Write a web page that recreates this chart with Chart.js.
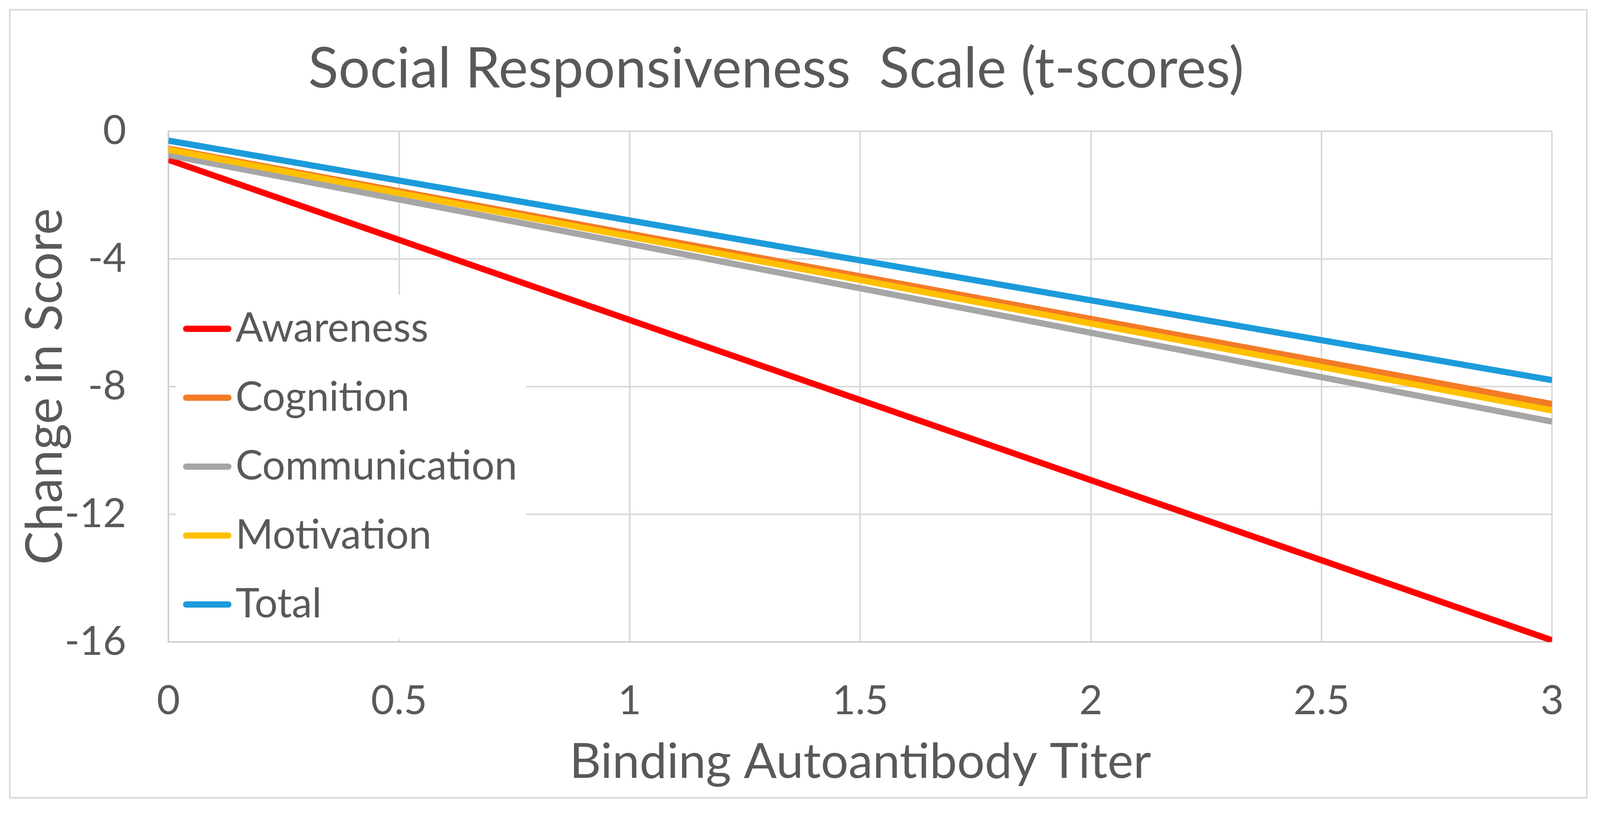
<!DOCTYPE html>
<html>
<head>
<meta charset="utf-8">
<title>Social Responsiveness Scale (t-scores)</title>
<script src="https://cdn.jsdelivr.net/npm/chart.js@4.4.1/dist/chart.umd.min.js"></script>
<style>
  html, body { margin: 0; padding: 0; background: #fff; overflow: hidden; }
  canvas { display: block; }
</style>
</head>
<body>
<canvas id="srsChart"></canvas>
<script>
// regression lines, change in t-score vs titer
let titers = [0, 3];
let awareness = [-0.9, -15.95];
let cognition = [-0.55, -8.55];
let communication = [-0.75, -9.1];
let motivation = [-0.58, -8.75];
let total = [-0.3, -7.8];

let seriesNames = ["Awareness", "Cognition", "Communication", "Motivation", "Total"];
let seriesColors = ["#ff0000", "#f47b26", "#a6a6a6", "#ffc000", "#1c9bdb"];

let xTicks = [0, 0.5, 1, 1.5, 2, 2.5, 3];
let yTicks = [0, -4, -8, -12, -16];

let textColor = "#595959";
let gridColor = "#d9d9d9";

// layout was measured on a 4246 x 2082 picture, scale to the real window
let W = window.innerWidth;
let H = window.innerHeight;
let sx = W / 4246;
let sy = H / 2082;

let canvas = document.getElementById("srsChart");
canvas.width = W;
canvas.height = H;

function pts(ys) {
    return titers.map(function (x, i) { return { x: x, y: ys[i] }; });
}

let allSeries = [awareness, cognition, communication, motivation, total];
let datasets = allSeries.map(function (ys, i) {
    return {
        label: seriesNames[i],
        data: pts(ys),
        borderColor: seriesColors[i],
        backgroundColor: seriesColors[i],
        borderWidth: 16,
        pointRadius: 0,
        fill: false,
        // excel draws later series on top
        order: allSeries.length - i
    };
});

// white page + thin gray frame
let framePlugin = {
    id: "frame",
    beforeDraw: function (chart) {
        let ctx = chart.ctx;
        ctx.save();
        ctx.fillStyle = "#fff";
        ctx.fillRect(0, 0, chart.width, chart.height);
        ctx.strokeStyle = gridColor;
        ctx.lineWidth = 4;
        ctx.strokeRect(26 * sx, 25 * sy, chart.width - 61 * sx, chart.height - 64 * sy);
        ctx.restore();
    }
};

// legend sits inside the plot, on a white box
let insideLegend = {
    id: "insideLegend",
    beforeDatasetsDraw: function (chart) {
        let ctx = chart.ctx;
        ctx.save();
        ctx.fillStyle = "#fff";
        ctx.fillRect(467 * sx, 755 * sy, 929 * sx, 882 * sy);
        ctx.font = "104px Lato";
        ctx.textBaseline = "alphabetic";
        ctx.textAlign = "left";
        chart.data.datasets.forEach(function (ds, i) {
            let y = (842 + i * 176.5) * sy;
            ctx.strokeStyle = ds.borderColor;
            ctx.lineWidth = 16;
            ctx.lineCap = "round";
            ctx.beginPath();
            ctx.moveTo(494 * sx, y);
            ctx.lineTo(606 * sx, y);
            ctx.stroke();
            ctx.fillStyle = textColor;
            ctx.fillText(ds.label, 625 * sx, y + 33 * sy);
        });
        ctx.restore();
    }
};

Chart.defaults.font.family = "Lato";
Chart.defaults.color = textColor;

new Chart(canvas, {
    type: "line",
    data: { datasets: datasets },
    plugins: [framePlugin, insideLegend],
    options: {
        responsive: false,
        animation: false,
        devicePixelRatio: 1,
        layout: { padding: { left: 0, right: 127 * sx, top: 0, bottom: 0 } },
        plugins: {
            legend: { display: false },
            tooltip: { enabled: false },
            title: {
                display: true,
                text: "Social Responsiveness  Scale (t-scores)",
                color: textColor,
                font: { size: 143, weight: "normal" },
                padding: { top: 92 * sy, bottom: 72 * sy }
            }
        },
        scales: {
            x: {
                type: "linear",
                min: 0,
                max: 3,
                afterBuildTicks: function (axis) {
                    axis.ticks = xTicks.map(function (v) { return { value: v }; });
                },
                afterFit: function (axis) { axis.height = 438 * sy; },
                ticks: {
                    font: { size: 103 }, color: textColor, padding: 90 * sy,
                    callback: function (v) { return String(v); }
                },
                grid: { color: gridColor, lineWidth: 4, drawTicks: false },
                border: { color: "#cfcfcf", width: 4 },
                title: {
                    display: true,
                    text: "Binding Autoantibody Titer",
                    color: textColor,
                    font: { size: 125 },
                    padding: { top: 0, bottom: 55 * sy }
                }
            },
            y: {
                type: "linear",
                min: -16,
                max: 0,
                afterBuildTicks: function (axis) {
                    axis.ticks = yTicks.map(function (v) { return { value: v }; });
                },
                afterFit: function (axis) { axis.width = 447 * sx; },
                ticks: {
                    font: { size: 103 }, color: textColor, padding: 112 * sx,
                    callback: function (v) { return String(v); }
                },
                grid: { color: gridColor, lineWidth: 4, drawTicks: false },
                border: { color: "#cfcfcf", width: 4 },
                title: {
                    display: true,
                    text: "Change in Score",
                    color: textColor,
                    font: { size: 129 },
                    padding: { top: 40 * sx, bottom: 0 }
                }
            }
        }
    }
});
</script>
</body>
</html>
